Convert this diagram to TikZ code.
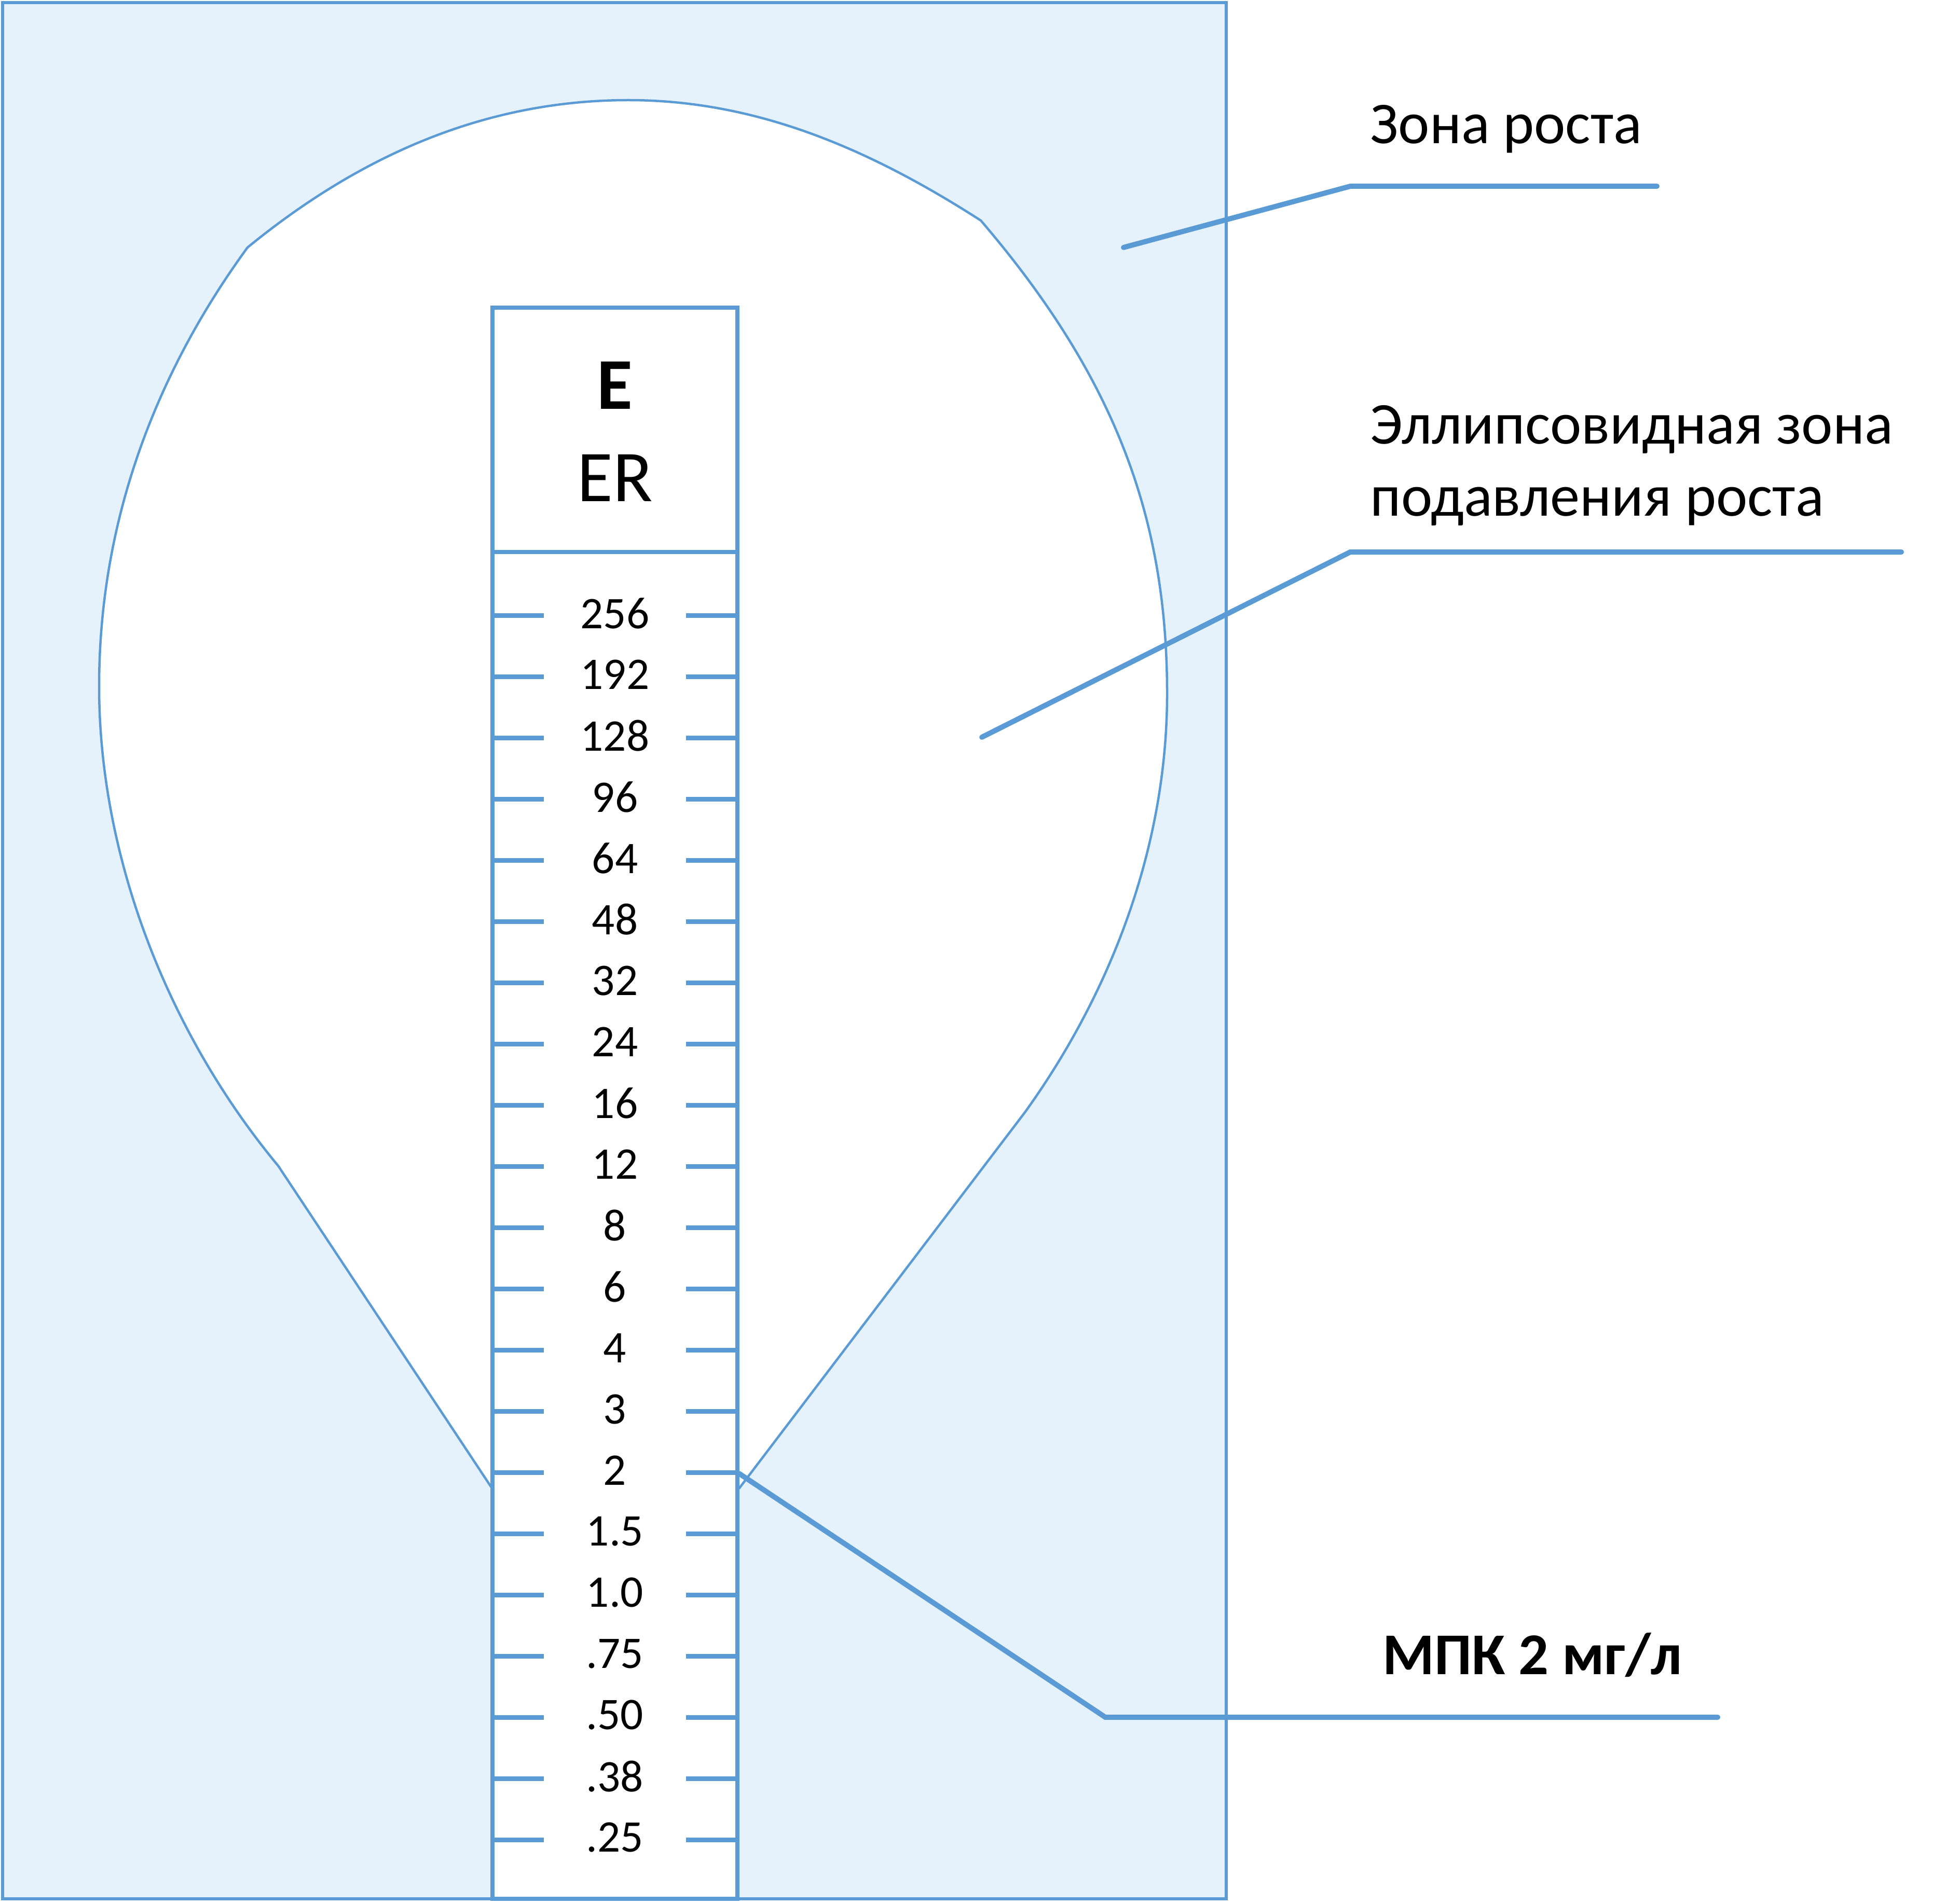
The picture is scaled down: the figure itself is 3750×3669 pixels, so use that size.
\documentclass[tikz,border=0pt]{standalone}
\usepackage{fontspec}
\setmainfont{Carlito}
\usepackage{xcolor}
\usepackage{tikz}
\usetikzlibrary{positioning}
\definecolor{lineblue}{RGB}{91,155,213}
\definecolor{zoneblue}{RGB}{230,242,251}
\tikzset{frame/.style={draw=lineblue,line width=0.65mm,fill=zoneblue}}
\tikzset{zone/.style={draw=lineblue,line width=0.45mm,fill=white}}
\tikzset{strip/.style={draw=lineblue,line width=0.85mm,fill=white}}
\tikzset{tickline/.style={draw=lineblue,line width=0.9mm}}
\tikzset{leader/.style={draw=lineblue,line width=1mm,line cap=round}}
\tikzset{num/.style={font=\fontsize{24.8}{28}\selectfont,inner sep=0pt}}
\tikzset{head/.style={font=\fontsize{40}{44}\selectfont,inner sep=0pt,anchor=base}}
\tikzset{lbl/.style={font=\fontsize{32.5}{39.3}\selectfont,inner sep=0pt,anchor=base west,align=left}}

\begin{document}
\begin{tikzpicture}[x=0.1mm,y=-0.1mm]
    \useasboundingbox (0,0) rectangle (3750,3669);
    \draw[frame] (5,5) rectangle (2363,3660);

    % zone of inhibition
    \draw[zone] (949,2870) -- (536,2247)
        .. controls (325,1993) and (191,1653) .. (191,1323)
        .. controls (191,1023) and (288,736) .. (477,477)
        .. controls (680,311) and (921,193) .. (1211,193)
        .. controls (1461,193) and (1680,290) .. (1890,425)
        .. controls (2150,729) and (2249,1000) .. (2249,1337)
        .. controls (2249,1627) and (2144,1909) .. (1975,2144)
        -- (1425,2868) -- cycle;

    % strip
    \draw[strip] (949,593) rectangle (1421,3660);
    \draw[strip] (949,1064) -- (1421,1064);
    \node[head] (e)at (1185,788) {\bfseries E};
    \node[head] (er)at (1185,966) {ER};

    \draw[tickline] (949,1186) -- (1048,1186) (1322,1186) -- (1421,1186);
    \draw[tickline] (949,1304) -- (1048,1304) (1322,1304) -- (1421,1304);
    \draw[tickline] (949,1422) -- (1048,1422) (1322,1422) -- (1421,1422);
    \draw[tickline] (949,1540) -- (1048,1540) (1322,1540) -- (1421,1540);
    \draw[tickline] (949,1658) -- (1048,1658) (1322,1658) -- (1421,1658);
    \draw[tickline] (949,1776) -- (1048,1776) (1322,1776) -- (1421,1776);
    \draw[tickline] (949,1894) -- (1048,1894) (1322,1894) -- (1421,1894);
    \draw[tickline] (949,2012) -- (1048,2012) (1322,2012) -- (1421,2012);
    \draw[tickline] (949,2130) -- (1048,2130) (1322,2130) -- (1421,2130);
    \draw[tickline] (949,2248) -- (1048,2248) (1322,2248) -- (1421,2248);
    \draw[tickline] (949,2366) -- (1048,2366) (1322,2366) -- (1421,2366);
    \draw[tickline] (949,2484) -- (1048,2484) (1322,2484) -- (1421,2484);
    \draw[tickline] (949,2602) -- (1048,2602) (1322,2602) -- (1421,2602);
    \draw[tickline] (949,2720) -- (1048,2720) (1322,2720) -- (1421,2720);
    \draw[tickline] (949,2838) -- (1048,2838) (1322,2838) -- (1421,2838);
    \draw[tickline] (949,2956) -- (1048,2956) (1322,2956) -- (1421,2956);
    \draw[tickline] (949,3074) -- (1048,3074) (1322,3074) -- (1421,3074);
    \draw[tickline] (949,3192) -- (1048,3192) (1322,3192) -- (1421,3192);
    \draw[tickline] (949,3310) -- (1048,3310) (1322,3310) -- (1421,3310);
    \draw[tickline] (949,3428) -- (1048,3428) (1322,3428) -- (1421,3428);
    \draw[tickline] (949,3546) -- (1048,3546) (1322,3546) -- (1421,3546);

    \node[num] (n256)at (1185,1182) {256};
    \node[num] (n192)at (1185,1300) {192};
    \node[num] (n128)at (1185,1418) {128};
    \node[num] (n96)at (1185,1536) {96};
    \node[num] (n64)at (1185,1654) {64};
    \node[num] (n48)at (1185,1772) {48};
    \node[num] (n32)at (1185,1890) {32};
    \node[num] (n24)at (1185,2008) {24};
    \node[num] (n16)at (1185,2126) {16};
    \node[num] (n12)at (1185,2244) {12};
    \node[num] (n8)at (1185,2362) {8};
    \node[num] (n6)at (1185,2480) {6};
    \node[num] (n4)at (1185,2598) {4};
    \node[num] (n3)at (1185,2716) {3};
    \node[num] (n2)at (1185,2834) {2};
    \node[num] (n15)at (1185,2952) {1.5};
    \node[num] (n10)at (1185,3070) {1.0};
    \node[num] (n075)at (1185,3188) {.75};
    \node[num] (n050)at (1185,3306) {.50};
    \node[num] (n038)at (1185,3424) {.38};
    \node[num] (n025)at (1185,3542) {.25};

    % labels
    \node[lbl] (growth)at (2640,277) {Зона роста};
    \node[lbl] (inhib)at (2640,994) {Эллипсовидная зона\\подавления роста};
    \node[lbl] (mic)at (2664,3227) {\bfseries МПК 2 мг/л};

    \coordinate (g1) at (2165,477);
    \coordinate (g2) at (2602,359);
    \coordinate (g3) at (3193,359);
    \coordinate (i1) at (1892,1421);
    \coordinate (i2) at (2602,1064);
    \coordinate (i3) at (3664,1064);
    \coordinate (m1) at (1424,2840);
    \coordinate (m2) at (2130,3310);
    \coordinate (m3) at (3310,3310);

    \draw[leader] (g1) -- (g2) -- (g3);
    \draw[leader] (i1) -- (i2) -- (i3);
    \draw[leader] (m1) -- (m2) -- (m3);
\end{tikzpicture}
\end{document}
